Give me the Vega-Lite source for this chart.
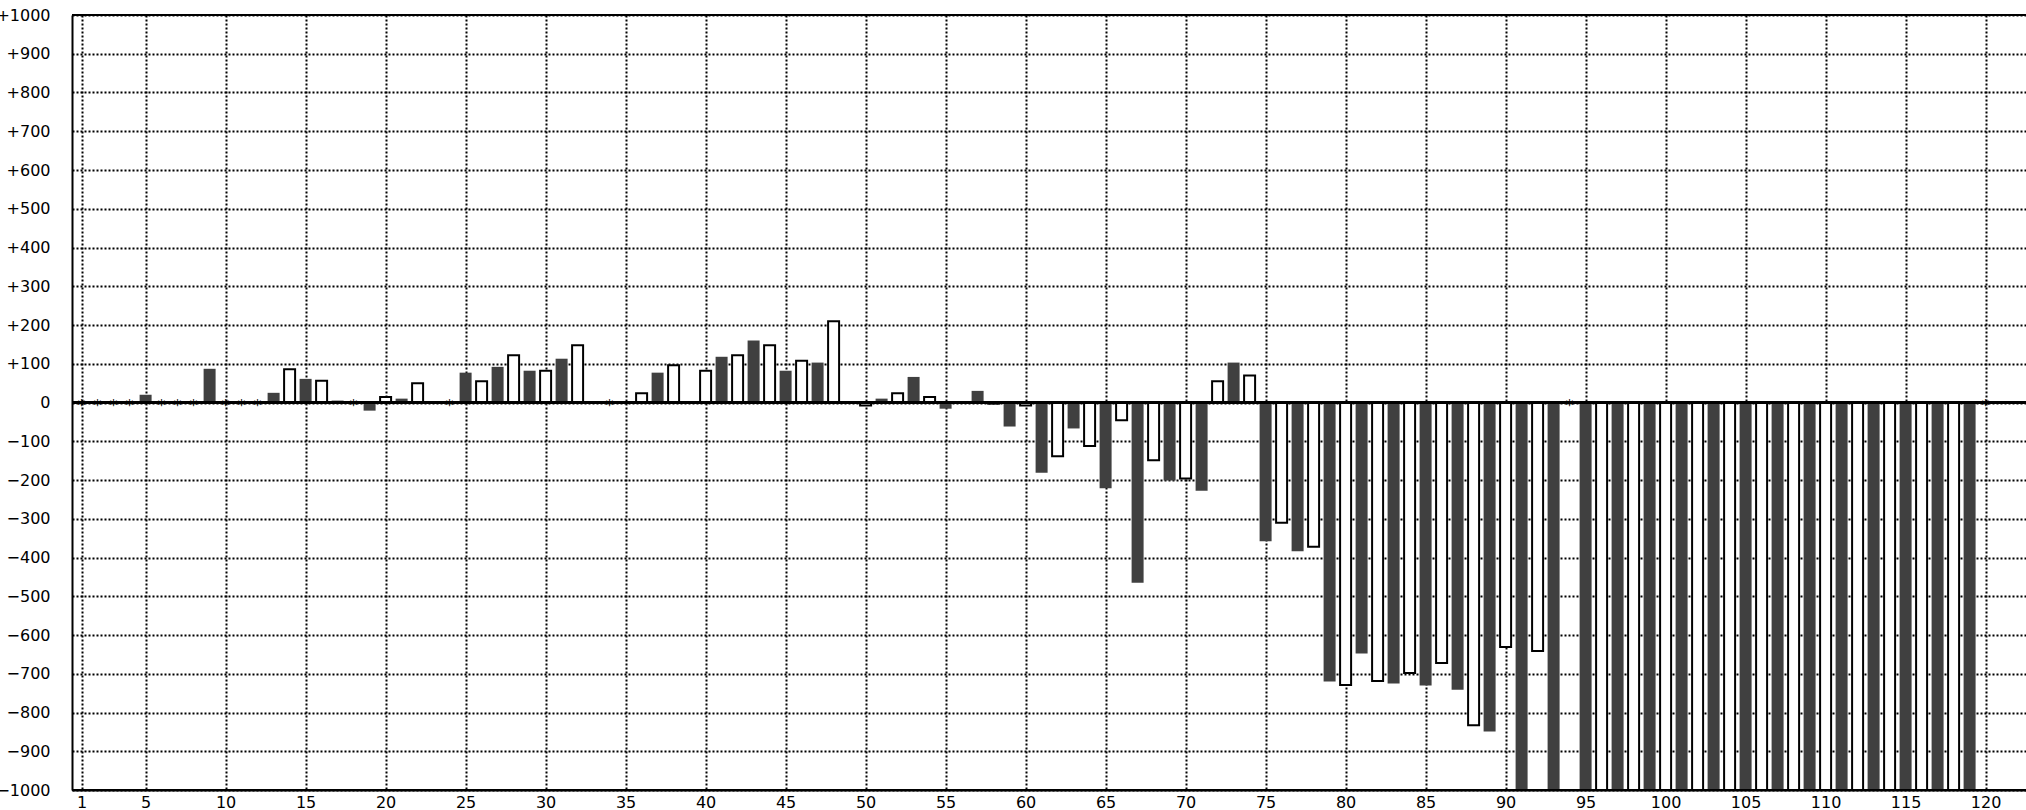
{
  "$schema": "https://vega.github.io/schema/vega-lite/v6.json",
  "width": 1954,
  "height": 775,
  "autosize": {"type": "none"},
  "padding": {"left": 72, "top": 15, "right": 0, "bottom": 20},
  "background": "white",
  "config": {
    "view": {"stroke": null},
    "font": "DejaVu Sans",
    "axis": {
      "labelFont": "DejaVu Sans",
      "labelFontSize": 16,
      "labelColor": "black",
      "ticks": false,
      "tickSize": 0,
      "grid": true,
      "gridColor": "black",
      "gridDash": [2, 2],
      "gridWidth": 2,
      "gridOpacity": 1,
      "domainColor": "black",
      "domainWidth": 2,
      "labelFlush": false,
      "labelOverlap": false,
      "title": null
    }
  },
  "data": {
    "values": [
      {"n": 1, "v": 0, "m": "*"}, {"n": 2, "v": 0, "m": "*"}, {"n": 3, "v": 0, "m": "*"}, {"n": 4, "v": 0, "m": "*"},
      {"n": 5, "v": 20, "m": ""}, {"n": 6, "v": 0, "m": "*"}, {"n": 7, "v": 0, "m": "*"}, {"n": 8, "v": 0, "m": "*"},
      {"n": 9, "v": 87, "m": ""}, {"n": 10, "v": 0, "m": "*"}, {"n": 11, "v": 0, "m": "*"}, {"n": 12, "v": 0, "m": "*"},
      {"n": 13, "v": 25, "m": ""}, {"n": 14, "v": 86, "m": ""}, {"n": 15, "v": 61, "m": ""}, {"n": 16, "v": 56, "m": ""},
      {"n": 17, "v": 5, "m": ""}, {"n": 18, "v": 0, "m": "*"}, {"n": 19, "v": -21, "m": ""}, {"n": 20, "v": 14, "m": ""},
      {"n": 21, "v": 10, "m": ""}, {"n": 22, "v": 50, "m": ""}, {"n": 23, "v": 0, "m": ""}, {"n": 24, "v": 0, "m": "*"},
      {"n": 25, "v": 77, "m": ""}, {"n": 26, "v": 55, "m": ""}, {"n": 27, "v": 92, "m": ""}, {"n": 28, "v": 122, "m": ""},
      {"n": 29, "v": 82, "m": ""}, {"n": 30, "v": 82, "m": ""}, {"n": 31, "v": 113, "m": ""}, {"n": 32, "v": 148, "m": ""},
      {"n": 33, "v": 0, "m": ""}, {"n": 34, "v": 0, "m": "*"}, {"n": 35, "v": 0, "m": ""}, {"n": 36, "v": 24, "m": ""},
      {"n": 37, "v": 77, "m": ""}, {"n": 38, "v": 96, "m": ""}, {"n": 39, "v": 0, "m": ""}, {"n": 40, "v": 82, "m": ""},
      {"n": 41, "v": 118, "m": ""}, {"n": 42, "v": 122, "m": ""}, {"n": 43, "v": 160, "m": ""}, {"n": 44, "v": 148, "m": ""},
      {"n": 45, "v": 82, "m": ""}, {"n": 46, "v": 108, "m": ""}, {"n": 47, "v": 103, "m": ""}, {"n": 48, "v": 210, "m": ""},
      {"n": 49, "v": 0, "m": ""}, {"n": 50, "v": -8, "m": ""}, {"n": 51, "v": 10, "m": ""}, {"n": 52, "v": 24, "m": ""},
      {"n": 53, "v": 66, "m": ""}, {"n": 54, "v": 14, "m": ""}, {"n": 55, "v": -16, "m": ""}, {"n": 56, "v": 0, "m": ""},
      {"n": 57, "v": 30, "m": ""}, {"n": 58, "v": -3, "m": ""}, {"n": 59, "v": -62, "m": ""}, {"n": 60, "v": -8, "m": ""},
      {"n": 61, "v": -181, "m": ""}, {"n": 62, "v": -139, "m": ""}, {"n": 63, "v": -67, "m": ""}, {"n": 64, "v": -112, "m": ""},
      {"n": 65, "v": -221, "m": ""}, {"n": 66, "v": -46, "m": ""}, {"n": 67, "v": -465, "m": ""}, {"n": 68, "v": -149, "m": ""},
      {"n": 69, "v": -201, "m": ""}, {"n": 70, "v": -196, "m": ""}, {"n": 71, "v": -228, "m": ""}, {"n": 72, "v": 55, "m": ""},
      {"n": 73, "v": 103, "m": ""}, {"n": 74, "v": 70, "m": ""}, {"n": 75, "v": -358, "m": ""}, {"n": 76, "v": -310, "m": ""},
      {"n": 77, "v": -384, "m": ""}, {"n": 78, "v": -372, "m": ""}, {"n": 79, "v": -720, "m": ""}, {"n": 80, "v": -729, "m": ""},
      {"n": 81, "v": -648, "m": ""}, {"n": 82, "v": -719, "m": ""}, {"n": 83, "v": -725, "m": ""}, {"n": 84, "v": -698, "m": ""},
      {"n": 85, "v": -730, "m": ""}, {"n": 86, "v": -672, "m": ""}, {"n": 87, "v": -741, "m": ""}, {"n": 88, "v": -833, "m": ""},
      {"n": 89, "v": -849, "m": ""}, {"n": 90, "v": -631, "m": ""}, {"n": 91, "v": -1000, "m": ""}, {"n": 92, "v": -641, "m": ""},
      {"n": 93, "v": -1000, "m": ""}, {"n": 94, "v": 0, "m": "*"}, {"n": 95, "v": -1000, "m": ""}, {"n": 96, "v": -1000, "m": ""},
      {"n": 97, "v": -1000, "m": ""}, {"n": 98, "v": -1000, "m": ""}, {"n": 99, "v": -1000, "m": ""}, {"n": 100, "v": -1000, "m": ""},
      {"n": 101, "v": -1000, "m": ""}, {"n": 102, "v": -1000, "m": ""}, {"n": 103, "v": -1000, "m": ""}, {"n": 104, "v": -1000, "m": ""},
      {"n": 105, "v": -1000, "m": ""}, {"n": 106, "v": -1000, "m": ""}, {"n": 107, "v": -1000, "m": ""}, {"n": 108, "v": -1000, "m": ""},
      {"n": 109, "v": -1000, "m": ""}, {"n": 110, "v": -1000, "m": ""}, {"n": 111, "v": -1000, "m": ""}, {"n": 112, "v": -1000, "m": ""},
      {"n": 113, "v": -1000, "m": ""}, {"n": 114, "v": -1000, "m": ""}, {"n": 115, "v": -1000, "m": ""}, {"n": 116, "v": -1000, "m": ""},
      {"n": 117, "v": -1000, "m": ""}, {"n": 118, "v": -1000, "m": ""}, {"n": 119, "v": -1000, "m": ""}, {"n": 120, "v": 0, "m": "*"}
    ]
  },
  "encoding": {
    "x": {
      "field": "n",
      "type": "quantitative",
      "scale": {"domain": [0.4, 122.525], "nice": false, "zero": false, "padding": 0},
      "axis": {
        "values": [1, 5, 10, 15, 20, 25, 30, 35, 40, 45, 50, 55, 60, 65, 70, 75, 80, 85, 90, 95, 100, 105, 110, 115, 120],
        "labelPadding": 4,
        "labelFontSize": 16
      }
    },
    "y": {
      "field": "v",
      "type": "quantitative",
      "scale": {"domain": [-1000, 1000], "nice": false},
      "axis": {
        "values": [-1000, -900, -800, -700, -600, -500, -400, -300, -200, -100, 0, 100, 200, 300, 400, 500, 600, 700, 800, 900, 1000],
        "format": "d",
        "labelExpr": "datum.value > 0 ? '+' + datum.label : datum.label",
        "labelPadding": 22,
        "labelFontSize": 16
      }
    }
  },
  "layer": [
    {
      "transform": [{"filter": "datum.m == '' && datum.n % 2 == 1"}],
      "mark": {"type": "bar", "size": 12, "color": "#404040", "clip": true}
    },
    {
      "transform": [{"filter": "datum.m == '' && datum.n % 2 == 0"}],
      "mark": {"type": "bar", "size": 11, "fill": "white", "stroke": "black", "strokeWidth": 2, "clip": true}
    },
    {
      "mark": {"type": "rule", "color": "black", "strokeWidth": 2},
      "encoding": {"x": null, "y": {"datum": 0}}
    },
    {
      "mark": {"type": "rule", "color": "black", "strokeWidth": 2},
      "encoding": {"x": null, "y": {"datum": 1000}}
    },
    {
      "mark": {"type": "rule", "color": "black", "strokeWidth": 2},
      "encoding": {"x": null, "y": {"datum": -1000}}
    },
    {
      "transform": [{"filter": "datum.m == '*'"}],
      "mark": {
        "type": "text",
        "font": "DejaVu Sans",
        "fontSize": 16,
        "fill": "black",
        "align": "center",
        "baseline": "middle",
        "dy": 3
      },
      "encoding": {
        "text": {"field": "m", "type": "nominal"}
      }
    }
  ]
}
